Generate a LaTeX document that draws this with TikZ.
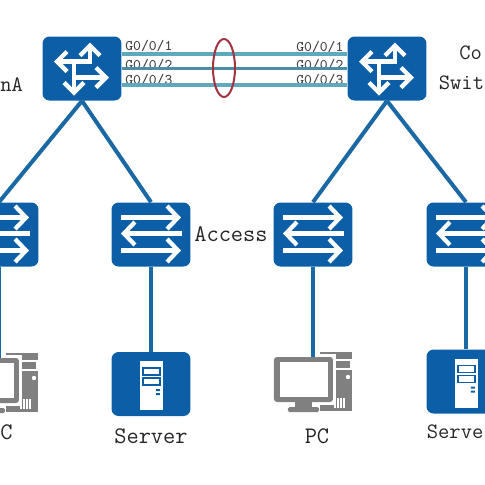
\documentclass[tikz,border=0pt]{standalone}
\usetikzlibrary{arrows.meta,shapes.geometric}

\definecolor{netblue}{HTML}{0C5FA6}
\definecolor{wireblue}{HTML}{1A68A4}
\definecolor{linkteal}{HTML}{5FA9BE}
\definecolor{linkdark}{HTML}{4A8FA6}
\definecolor{pcgray}{HTML}{808080}
\definecolor{lagred}{HTML}{A2333F}

\tikzset{
  box/.style={fill=netblue,rounded corners=0.14cm,minimum width=1.58cm,minimum height=1.28cm,inner sep=0pt},
  pcbox/.style={minimum width=1.2cm,minimum height=0.9cm,inner sep=0pt},
  wire/.style={wireblue,line width=0.08cm},
  link/.style={linkteal,line width=0.07cm},
  port/.style={font=\ttfamily\fontsize{8.4}{10}\selectfont,text=black!75,inner sep=0pt,anchor=west},
  caption/.style={font=\ttfamily\fontsize{13.5}{16}\selectfont,text=black!85,inner sep=0pt},
  edgecaption/.style={font=\ttfamily\fontsize{12.5}{15}\selectfont,text=black!85,inner sep=0pt,anchor=west},
  whitearrow/.style={white,line width=0.085cm,-{Straight Barb[length=0.2cm,width=0.4cm]}},
  longarrow/.style={white,line width=0.085cm,-{Straight Barb[length=0.22cm,width=0.46cm]}},
  routerglyph/.pic={
    \draw[whitearrow] (8,-5) -- (8,-26);
    \draw[whitearrow] (8,-7) -- (-28,-7);
    \draw[whitearrow] (-8,9) -- (27,9);
    \draw[whitearrow] (-8,-7) -- (-8,27);
    \fill[netblue] (0,1) circle (5.5);
  },
  switchglyph/.pic={
    \draw[longarrow] (-30,-17) -- (30,-17);
    \draw[longarrow] (31,-1) -- (-30,-1);
    \draw[longarrow] (-30,16) -- (30,16);
  },
  serverglyph/.pic={
    \fill[white] (-11,-23) rectangle (12,26);
    \draw[netblue,line width=0.035cm] (-8,-16) rectangle (9,-9);
    \draw[netblue,line width=0.035cm] (-8,-6) rectangle (9,1);
    \fill[netblue] (5,5) rectangle (9,7) (5,9) rectangle (9,11);
  },
  pcglyph/.pic={
    % tower
    \fill[pcgray] (7,-5) rectangle (39,54);
    \draw[white,line width=0.03cm] (21,3) rectangle (38,12);
    \fill[white] (35,20) circle (2.2);
    \foreach \vx in {22,25,28,31}
      \draw[white,line width=0.03cm] (\vx,41) -- (\vx,51);
    % monitor
    \fill[white] (-42,-3) rectangle (23,48);
    \fill[pcgray,rounded corners=0.06cm] (-39,0) rectangle (20,45);
    \fill[white] (-33,5) rectangle (15,40);
    \fill[pcgray] (-18,45) rectangle (-1,50);
    \fill[pcgray,rounded corners=0.03cm] (-25,50) rectangle (6,55);
  },
}

\begin{document}
\begin{tikzpicture}[x=0.02cm,y=-0.02cm]
  \clip (0,0) rectangle (485,485);

  \node[box] (coreA) at (82,68.5) {};
  \node[box] (coreB) at (387,68.5) {};
  \node[box] (acc1) at (-1,234.5) {};
  \node[box] (acc2) at (151,234.5) {};
  \node[box] (acc3) at (313,234.5) {};
  \node[box] (acc4) at (466,234.5) {};
  \node[box] (srvA) at (151,384) {};
  \node[box] (srvB) at (466,381.5) {};
  \node[pcbox] (pcA) at (-1,381) {};
  \node[pcbox] (pcB) at (313,380) {};

  \pic at (coreA) {routerglyph};
  \pic at (coreB) {routerglyph};
  \foreach \sw in {acc1,acc2,acc3,acc4}
    \pic at (\sw) {switchglyph};
  \pic at (srvA) {serverglyph};
  \pic at (srvB) {serverglyph};
  \pic at (-1,358) {pcglyph};
  \pic at (313,357) {pcglyph};

  \node[port] (portA1) at (125,46) {G0/0/1};
  \node[port] (portA2) at (125,65) {G0/0/2};
  \node[port] (portA3) at (125,80) {G0/0/3};
  \node[port] (portB1) at (296,47) {G0/0/1};
  \node[port] (portB2) at (296,65) {G0/0/2};
  \node[port] (portB3) at (296,80) {G0/0/3};

  \draw[link] ([yshift=0.29cm]coreA.east) -- ([yshift=0.29cm]coreB.west);
  \draw[link,linkdark] (coreA.east) -- (coreB.west);
  \draw[link] ([yshift=-0.33cm]coreA.east) -- ([yshift=-0.33cm]coreB.west);
  \node[draw=lagred,line width=0.04cm,ellipse,minimum width=0.44cm,minimum height=1.16cm,inner sep=0pt] (lag) at (224,68) {};

  \draw[wire] (coreA.south) -- (acc1.north);
  \draw[wire] (coreA.south) -- (acc2.north);
  \draw[wire] (coreB.south) -- (acc3.north);
  \draw[wire] (coreB.south) -- (acc4.north);
  \draw[wire] (acc1.south) -- (pcA.north);
  \draw[wire] (acc2.south) -- (srvA.north);
  \draw[wire] (acc3.south) -- (pcB.north);
  \draw[wire] (acc4.south) -- (srvB.north);

  \node[edgecaption] (lblA) at (0,85) {nA};
  \node[edgecaption] (lblCo) at (459,53) {Co};
  \node[edgecaption] (lblSw) at (438.5,83) {Swit};
  \node[caption] (lblAcc) at (231,234) {Access};
  \node[caption] (lblSrvA) at (151,436) {Server};
  \node[edgecaption] (lblSrvB) at (426.5,432) {Serve};
  \node[caption] (lblPcB) at (317,436) {PC};
  \node[caption,anchor=west] (lblPcA) at (0,432) {C};
\end{tikzpicture}
\end{document}
